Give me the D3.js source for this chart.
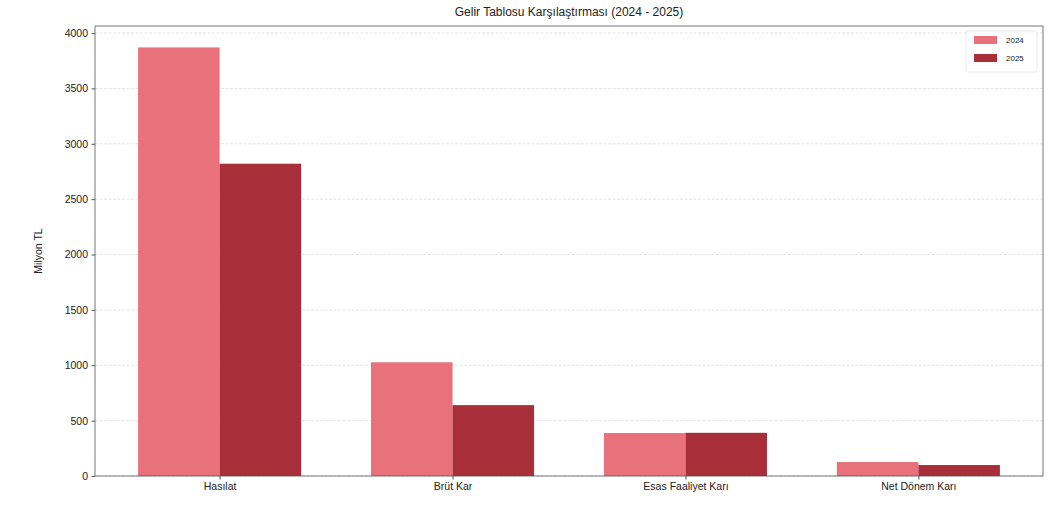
<!DOCTYPE html>
<html>
<head>
<meta charset="utf-8">
<script src="https://cdn.jsdelivr.net/npm/d3@7"></script>
<style>
  body { margin: 0; background: #fff; }
  svg text { font-family: "Liberation Sans", Arial, sans-serif; fill: #222; }
</style>
</head>
<body>
<svg class="chart"></svg>
<script>
const categories = ["Hasılat", "Brüt Kar", "Esas Faaliyet Karı", "Net Dönem Karı"];
const years = ["2024", "2025"];
const values2024 = [3870, 1027, 388, 126];
const values2025 = [2820, 640, 390, 99];
const yTicks = [0, 500, 1000, 1500, 2000, 2500, 3000, 3500, 4000];
const colors = ["#e8717b", "#a82f39"];

const width = 1050;
const height = 509;
const margin = { top: 26, right: 7, bottom: 33, left: 95 };
const graphWidth = width - margin.left - margin.right;
const graphHeight = height - margin.top - margin.bottom;

const svg = d3.select(".chart").attr("width", width).attr("height", height);

const data = categories.map((c, i) => ({ cat: c, v: [values2024[i], values2025[i]] }));

// matplotlib-like limits: bars at i +/- 0.35, 5% margin
const barW = 0.35;
const span = (categories.length - 1) + 2 * barW;
const xScale = d3.scaleLinear()
  .domain([-barW - span * 0.05, categories.length - 1 + barW + span * 0.05])
  .range([0, graphWidth]);

const yMax = d3.max(values2024.concat(values2025)) * 1.05;
const yScale = d3.scaleLinear().domain([0, yMax]).range([graphHeight, 0]);

const graph = svg.append("g")
  .attr("transform", `translate(${margin.left}, ${margin.top})`);

// grid
graph.append("g")
  .selectAll("line")
  .data(yTicks)
  .enter()
  .append("line")
  .attr("x1", 0)
  .attr("x2", graphWidth)
  .attr("y1", d => yScale(d))
  .attr("y2", d => yScale(d))
  .attr("stroke", "#c8c8c8")
  .attr("stroke-width", 0.8)
  .attr("stroke-dasharray", "3,1.5")
  .attr("opacity", 0.6);

// bars
const groups = graph.selectAll(".grp")
  .data(data)
  .enter()
  .append("g");

years.forEach((yr, k) => {
  groups.append("rect")
    .attr("x", (d, i) => xScale(i - barW + k * barW))
    .attr("width", xScale(barW) - xScale(0))
    .attr("y", d => yScale(d.v[k]))
    .attr("height", d => graphHeight - yScale(d.v[k]))
    .attr("fill", colors[k]);
});

// axes
const yAxis = d3.axisLeft(yScale).tickValues(yTicks).tickFormat(d3.format("d")).tickSize(3.5).tickPadding(3.5);
const yG = graph.append("g").call(yAxis);
yG.select(".domain").remove();
yG.selectAll("text").style("font-size", "10.5px").attr("fill", "#222");
yG.selectAll(".tick line").attr("stroke", "#555");

const xAxis = d3.axisBottom(xScale)
  .tickValues(d3.range(categories.length))
  .tickFormat(i => categories[i])
  .tickSize(3.5)
  .tickPadding(3.5);
const xG = graph.append("g")
  .attr("transform", `translate(0, ${graphHeight})`)
  .call(xAxis);
xG.select(".domain").remove();
xG.selectAll("text").style("font-size", "10.5px").attr("fill", "#222");
xG.selectAll(".tick line").attr("stroke", "#555");

// frame
graph.append("rect")
  .attr("width", graphWidth)
  .attr("height", graphHeight)
  .attr("fill", "none")
  .attr("stroke", "#555")
  .attr("stroke-width", 0.8);

// title and label
svg.append("text")
  .attr("x", margin.left + graphWidth / 2)
  .attr("y", 16)
  .attr("text-anchor", "middle")
  .style("font-size", "12px")
  .text("Gelir Tablosu Karşılaştırması (2024 - 2025)");

svg.append("text")
  .attr("transform", `translate(42, ${margin.top + graphHeight / 2}) rotate(-90)`)
  .attr("text-anchor", "middle")
  .style("font-size", "10.5px")
  .text("Milyon TL");

// legend
const legend = svg.append("g").attr("transform", `translate(${width - margin.right - 77}, ${margin.top + 5})`);
legend.append("rect")
  .attr("width", 71)
  .attr("height", 41)
  .attr("rx", 2)
  .attr("fill", "#fff")
  .attr("opacity", 0.8)
  .attr("stroke", "#e0e0e0")
  .attr("stroke-width", 0.8);
years.forEach((yr, k) => {
  legend.append("rect")
    .attr("x", 8)
    .attr("y", 5 + k * 18)
    .attr("width", 23)
    .attr("height", 8)
    .attr("fill", colors[k]);
  legend.append("text")
    .attr("x", 40)
    .attr("y", 9 + k * 18)
    .attr("dy", "0.35em")
    .style("font-size", "8px")
    .text(yr);
});
</script>
</body>
</html>
